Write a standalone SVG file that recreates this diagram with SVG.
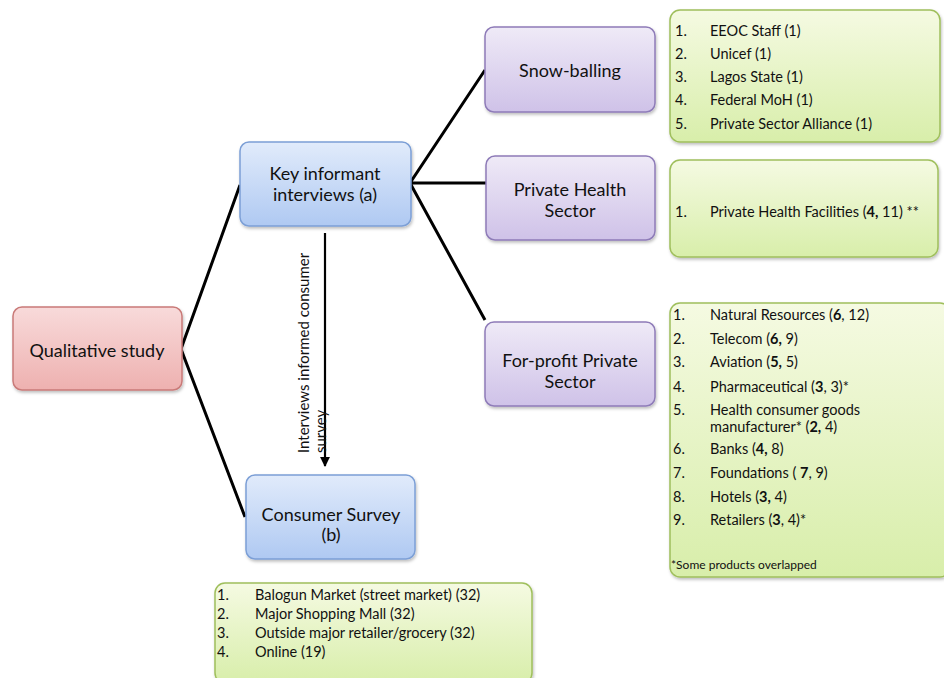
<svg xmlns="http://www.w3.org/2000/svg" width="944" height="678" viewBox="0 0 944 678">
<defs>
<linearGradient id="gRed" x1="0" y1="0" x2="0" y2="1"><stop offset="0" stop-color="#f8dada"/><stop offset="1" stop-color="#eeb1b0"/></linearGradient>
<linearGradient id="gBlue" x1="0" y1="0" x2="0" y2="1"><stop offset="0" stop-color="#e1ebfb"/><stop offset="1" stop-color="#afc9f2"/></linearGradient>
<linearGradient id="gPurple" x1="0" y1="0" x2="0" y2="1"><stop offset="0" stop-color="#efeaf7"/><stop offset="1" stop-color="#cfc2e8"/></linearGradient>
<linearGradient id="gGreen" x1="0" y1="0" x2="0" y2="1"><stop offset="0" stop-color="#f5fae2"/><stop offset="1" stop-color="#d8eeaa"/></linearGradient>
<filter id="sh" x="-10%" y="-10%" width="120%" height="130%"><feDropShadow dx="1" dy="2" stdDeviation="1.5" flood-color="#000" flood-opacity="0.25"/></filter>
<marker id="arr" viewBox="0 0 10 10" refX="9" refY="5" markerWidth="4.5" markerHeight="4.5" orient="auto"><path d="M0,0 L10,5 L0,10 z" fill="#000"/></marker>
</defs>
<style>
text{font-family:Lato,"Liberation Sans",sans-serif;fill:#111}
.node{font-size:18px;text-anchor:middle}
.li{font-size:14.5px}
.b{font-weight:bold}
.red{fill:url(#gRed);stroke:#c97a78;stroke-width:1.5;filter:url(#sh)}
.blue{fill:url(#gBlue);stroke:#7c9fd6;stroke-width:1.5;filter:url(#sh)}
.purple{fill:url(#gPurple);stroke:#8e7bb8;stroke-width:1.5;filter:url(#sh)}
.green{fill:url(#gGreen);stroke:#9fbf5c;stroke-width:1.5;filter:url(#sh)}
.c{stroke:#000;stroke-width:3;fill:none}
</style>
<rect width="944" height="678" fill="#fff"/>
<g id="connectors">
<path class="c" d="M240,185 L181,349 L245,517"/>
<path class="c" d="M485,70 L410,183 L486,183 M410,183 L485,320"/>
<line x1="325" y1="233" x2="325" y2="466" stroke="#000" stroke-width="2.2" marker-end="url(#arr)"/>
<text style="font-size:15px" transform="translate(309,453) rotate(-90)">Interviews informed consumer</text>
<text style="font-size:15px" transform="translate(326,453) rotate(-90)">survey</text>
</g>
<g id="qualitative">
<rect class="red" x="13" y="307" width="169" height="83" rx="9"/>
<text class="node" x="97" y="357">Qualitative study</text>
</g>
<g id="key-informant">
<rect class="blue" x="240" y="142" width="171" height="84" rx="9"/>
<text class="node" x="325" y="180">Key informant</text>
<text class="node" x="325" y="201">interviews (a)</text>
</g>
<g id="consumer-survey">
<rect class="blue" x="246" y="475" width="169" height="84" rx="9"/>
<text class="node" x="331" y="521">Consumer Survey</text>
<text class="node" x="331" y="541">(b)</text>
</g>
<g id="snowballing">
<rect class="purple" x="485" y="27" width="170" height="85" rx="9"/>
<text class="node" x="570" y="77">Snow-balling</text>
</g>
<g id="private-health">
<rect class="purple" x="486" y="156" width="169" height="84" rx="9"/>
<text class="node" x="570" y="196">Private Health</text>
<text class="node" x="570" y="217">Sector</text>
</g>
<g id="for-profit">
<rect class="purple" x="485" y="322" width="170" height="84" rx="9"/>
<text class="node" x="570" y="367">For-profit Private</text>
<text class="node" x="570" y="388">Sector</text>
</g>
<g id="list-snowballing">
<rect class="green" x="670" y="10" width="270" height="132" rx="10"/>
<g class="li">
<text x="675" y="36">1.</text><text x="710" y="36">EEOC Staff  (1)</text>
<text x="675" y="59">2.</text><text x="710" y="59">Unicef (1)</text>
<text x="675" y="82">3.</text><text x="710" y="82">Lagos State (1)</text>
<text x="675" y="105">4.</text><text x="710" y="105">Federal MoH  (1)</text>
<text x="675" y="129">5.</text><text x="710" y="129">Private Sector Alliance (1)</text>
</g>
</g>
<g id="list-private-health">
<rect class="green" x="670" y="160" width="268" height="97" rx="10"/>
<g class="li">
<text x="675" y="217">1.</text><text x="710" y="217">Private Health Facilities (<tspan class="b">4,</tspan> 11) **</text>
</g>
</g>
<g id="list-for-profit">
<rect class="green" x="670" y="303" width="280" height="274" rx="10"/>
<g class="li">
<text x="673" y="320">1.</text><text x="710" y="320">Natural Resources (<tspan class="b">6</tspan>, 12)</text>
<text x="673" y="344">2.</text><text x="710" y="344">Telecom (<tspan class="b">6,</tspan> 9)</text>
<text x="673" y="367">3.</text><text x="710" y="367">Aviation (<tspan class="b">5,</tspan> 5)</text>
<text x="673" y="392">4.</text><text x="710" y="392">Pharmaceutical (<tspan class="b">3</tspan>, 3)*</text>
<text x="673" y="415">5.</text><text x="710" y="415">Health consumer goods</text>
<text x="710" y="432">manufacturer* (<tspan class="b">2,</tspan> 4)</text>
<text x="673" y="454">6.</text><text x="710" y="454">Banks (<tspan class="b">4,</tspan> 8)</text>
<text x="673" y="478">7.</text><text x="710" y="478">Foundations ( <tspan class="b">7</tspan>, 9)</text>
<text x="673" y="502">8.</text><text x="710" y="502">Hotels (<tspan class="b">3,</tspan> 4)</text>
<text x="673" y="525">9.</text><text x="710" y="525">Retailers (<tspan class="b">3</tspan>, 4)*</text>
</g>
<text x="671" y="569" style="font-size:12px">*Some products overlapped</text>
</g>
<g id="list-consumer">
<rect class="green" x="215" y="583" width="317" height="100" rx="10"/>
<g class="li">
<text x="217" y="600">1.</text><text x="255" y="600">Balogun Market (street market) (32)</text>
<text x="217" y="619">2.</text><text x="255" y="619">Major Shopping Mall (32)</text>
<text x="217" y="638">3.</text><text x="255" y="638">Outside major retailer/grocery (32)</text>
<text x="217" y="657">4.</text><text x="255" y="657">Online  (19)</text>
</g>
</g>
</svg>
